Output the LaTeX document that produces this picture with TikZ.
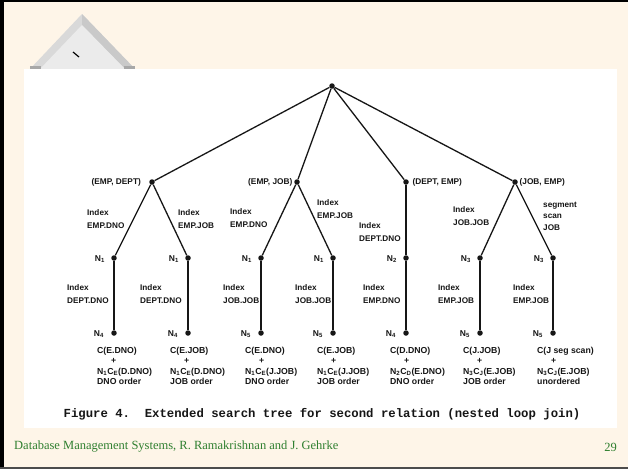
\documentclass[tikz,border=0pt]{standalone}
\usepackage{fontspec}
\setmainfont{Liberation Serif}
\setsansfont{Liberation Sans}
\setmonofont{Liberation Mono}
\usepackage{xcolor}
\usetikzlibrary{positioning}
\definecolor{slidebg}{HTML}{FEF5E8}
\definecolor{footgreen}{HTML}{2F7F2F}
\definecolor{pyrlight}{HTML}{D9D9D9}
\definecolor{pyrdark}{HTML}{C9C9C9}
\definecolor{pyrface}{HTML}{EBEBEB}
\definecolor{pyrshade}{HTML}{A8A8A8}
\definecolor{ink}{HTML}{161616}
\tikzset{
  treeedge/.style={draw=ink, line width=1.3pt},
  treedot/.style={circle, fill=ink, inner sep=0pt, minimum size=5.5pt},
  relname/.style={text=ink, font=\sffamily\bfseries\fontsize{8.3}{9}\selectfont, inner sep=0pt},
  nlabel/.style={text=ink, font=\sffamily\bfseries\fontsize{8.5}{9}\selectfont, inner sep=0pt, yshift=-1pt},
  pathlabel/.style={text=ink, font=\sffamily\bfseries\fontsize{8.2}{12.5}\selectfont, align=left, inner sep=0pt, anchor=west},
  costlabel/.style={text=ink, font=\sffamily\bfseries\fontsize{8.7}{10.3}\selectfont, align=left, inner sep=0pt, anchor=north west},
  figcaption/.style={text=ink, font=\ttfamily\bfseries\fontsize{12.3}{14}\selectfont},
  footer/.style={text=footgreen, font=\fontsize{12.5}{14}\selectfont, inner sep=0pt}
}

\begin{document}
\begin{tikzpicture}[x=1pt, y=-1pt]
  \useasboundingbox (0,0) rectangle (628,469);
  \fill[slidebg] (0,0) rectangle (628,469);
  \draw[black, line width=2pt] (0,1) -- (628,1);
  \draw[black, line width=4pt] (2,0) -- (2,469);
  \draw[black!70, line width=2pt] (0,468) -- (628,468);

  \fill[pyrlight] (82,14) -- (30,69) -- (135,69) -- cycle;
  \fill[pyrdark] (82,14) -- (135,69) -- (125,69) -- (82,25) -- cycle;
  \fill[pyrface] (82,25) -- (40,69) -- (125,69) -- cycle;
  \fill[pyrshade] (30,66) rectangle (41,70);
  \fill[pyrshade] (124,66) rectangle (135,70);
  \draw[black, line width=1.2pt] (73,52) -- (79,57);

  \fill[white] (24,69) rectangle (617,428);

  \node[treedot] (root) at (332,86) {};

  \node[treedot, label={[relname, label distance=8pt]left:(EMP, DEPT)}] (ed) at (152,182) {};
  \node[treedot, label={[relname, label distance=1.5pt]left:(EMP, JOB)}] (ej) at (297,182) {};
  \node[treedot, label={[relname, label distance=3.5pt]right:(DEPT, EMP)}] (de) at (406,182) {};
  \node[treedot, label={[relname, label distance=1.5pt]right:(JOB, EMP)}] (je) at (515,182) {};

  \node[treedot, label={[nlabel, label distance=6pt]left:N\textsubscript{1}}] (n1a) at (114,258) {};
  \node[treedot, label={[nlabel, label distance=6pt]left:N\textsubscript{1}}] (n1b) at (188,258) {};
  \node[treedot, label={[nlabel, label distance=6pt]left:N\textsubscript{1}}] (n1c) at (261,258) {};
  \node[treedot, label={[nlabel, label distance=6pt]left:N\textsubscript{1}}] (n1d) at (333,258) {};
  \node[treedot, label={[nlabel, label distance=6pt]left:N\textsubscript{2}}] (n2) at (406,258) {};
  \node[treedot, label={[nlabel, label distance=6pt]left:N\textsubscript{3}}] (n3a) at (480,258) {};
  \node[treedot, label={[nlabel, label distance=6pt]left:N\textsubscript{3}}] (n3b) at (553,258) {};

  \node[treedot, label={[nlabel, label distance=7pt]left:N\textsubscript{4}}] (n4a) at (114,333) {};
  \node[treedot, label={[nlabel, label distance=7pt]left:N\textsubscript{4}}] (n4b) at (188,333) {};
  \node[treedot, label={[nlabel, label distance=7pt]left:N\textsubscript{5}}] (n5a) at (261,333) {};
  \node[treedot, label={[nlabel, label distance=7pt]left:N\textsubscript{5}}] (n5b) at (333,333) {};
  \node[treedot, label={[nlabel, label distance=7pt]left:N\textsubscript{4}}] (n4c) at (406,333) {};
  \node[treedot, label={[nlabel, label distance=7pt]left:N\textsubscript{5}}] (n5c) at (480,333) {};
  \node[treedot, label={[nlabel, label distance=7pt]left:N\textsubscript{5}}] (n5d) at (553,333) {};

  \draw[treeedge] (root) -- (ed);
  \draw[treeedge] (root) -- (ej);
  \draw[treeedge] (root) -- (de);
  \draw[treeedge] (root) -- (je);

  \draw[treeedge] (ed) -- (n1a);
  \draw[treeedge] (ed) -- (n1b);
  \draw[treeedge] (ej) -- (n1c);
  \draw[treeedge] (ej) -- (n1d);
  \draw[treeedge] (de) -- (n2);
  \draw[treeedge] (je) -- (n3a);
  \draw[treeedge] (je) -- (n3b);

  \draw[treeedge] (n1a) -- (n4a);
  \draw[treeedge] (n1b) -- (n4b);
  \draw[treeedge] (n1c) -- (n5a);
  \draw[treeedge] (n1d) -- (n5b);
  \draw[treeedge] (n2) -- (n4c);
  \draw[treeedge] (n3a) -- (n5c);
  \draw[treeedge] (n3b) -- (n5d);

  \node[pathlabel] (pa) at (87,219) {Index\\EMP.DNO};
  \node[pathlabel] (pb) at (178,219) {Index\\EMP.JOB};
  \node[pathlabel] (pc) at (230,218) {Index\\EMP.DNO};
  \node[pathlabel] (pd) at (317,209) {Index\\EMP.JOB};
  \node[pathlabel] (pe) at (359,232) {Index\\DEPT.DNO};
  \node[pathlabel] (pf) at (453,216) {Index\\JOB.JOB};
  \node[pathlabel, font=\sffamily\bfseries\fontsize{8.2}{11.5}\selectfont] (pg) at (543,216) {segment\\scan\\JOB};

  \node[pathlabel] (qa) at (67,294) {Index\\DEPT.DNO};
  \node[pathlabel] (qb) at (140,294) {Index\\DEPT.DNO};
  \node[pathlabel] (qc) at (223,294) {Index\\JOB.JOB};
  \node[pathlabel] (qd) at (295,294) {Index\\JOB.JOB};
  \node[pathlabel] (qe) at (363,294) {Index\\EMP.DNO};
  \node[pathlabel] (qf) at (438,294) {Index\\EMP.JOB};
  \node[pathlabel] (qg) at (513,294) {Index\\EMP.JOB};

  \node[costlabel] (ca) at (97,347) {C(E.DNO)\\\hspace*{14pt}+\\N\textsubscript{1}C\textsubscript{E}(D.DNO)\\DNO order};
  \node[costlabel] (cb) at (170,347) {C(E.JOB)\\\hspace*{14pt}+\\N\textsubscript{1}C\textsubscript{E}(D.DNO)\\JOB order};
  \node[costlabel] (cc) at (245,347) {C(E.DNO)\\\hspace*{14pt}+\\N\textsubscript{1}C\textsubscript{E}(J.JOB)\\DNO order};
  \node[costlabel] (cd) at (317,347) {C(E.JOB)\\\hspace*{14pt}+\\N\textsubscript{1}C\textsubscript{E}(J.JOB)\\JOB order};
  \node[costlabel] (ce) at (390,347) {C(D.DNO)\\\hspace*{14pt}+\\N\textsubscript{2}C\textsubscript{D}(E.DNO)\\DNO order};
  \node[costlabel] (cf) at (463,347) {C(J.JOB)\\\hspace*{14pt}+\\N\textsubscript{3}C\textsubscript{J}(E.JOB)\\JOB order};
  \node[costlabel] (cg) at (537,347) {C(J seg scan)\\\hspace*{14pt}+\\N\textsubscript{3}C\textsubscript{J}(E.JOB)\\unordered};

  \node[figcaption] (cap) at (322,414) {Figure 4.\ \ Extended search tree for second relation (nested loop join)};

  \node[footer, anchor=west] (foot) at (14,447) {Database Management Systems, R. Ramakrishnan and J. Gehrke};
  \node[footer, anchor=east] (page) at (617,447) {29};
\end{tikzpicture}
\end{document}
